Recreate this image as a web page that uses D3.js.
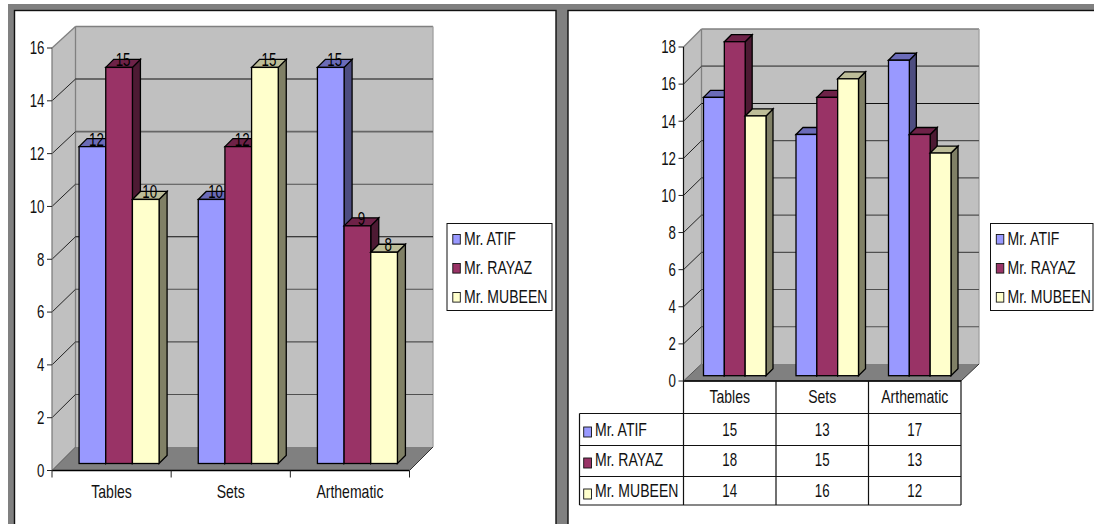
<!DOCTYPE html>
<html>
<head>
<meta charset="utf-8">
<style>
html,body{margin:0;padding:0;background:#fff;}
svg{display:block;}
text{font-family:"Liberation Sans",Arial,sans-serif;fill:#111;}
</style>
<script src="https://cdn.jsdelivr.net/npm/d3@7/dist/d3.min.js"></script>
</head>
<body>
<svg id="view" width="1094" height="524"></svg>
<script>
// Marks scores per teacher and topic, two 3D column charts side by side
const categories = ["Tables", "Sets", "Arthematic"];
const teachers = ["Mr. ATIF", "Mr. RAYAZ", "Mr. MUBEEN"];

const firstAtif = [12, 10, 15];
const firstRayaz = [15, 12, 9];
const firstMubeen = [10, 15, 8];
const firstTicks = [0, 2, 4, 6, 8, 10, 12, 14, 16];

const secondAtif = [15, 13, 17];
const secondRayaz = [18, 15, 13];
const secondMubeen = [14, 16, 12];
const secondTicks = [0, 2, 4, 6, 8, 10, 12, 14, 16, 18];

const faceColors = ["#9999ff", "#993366", "#ffffcc"];
const topColors = ["#6b6bb8", "#6e2248", "#bdbd98"];
const sideColors = ["#4d4d80", "#4d1a33", "#808066"];

const svg = d3.select("#view");

// Tall, narrowed Arial-like text: numbers squeeze a little more than words
function label(x, y, str, anchor, squeeze) {
  return svg.append("text")
    .attr("transform", `translate(${x},${y}) scale(${squeeze || 0.78},1)`)
    .attr("font-size", 18)
    .attr("text-anchor", anchor || "middle")
    .text(str);
}
function poly(points, fill, stroke, width) {
  return svg.append("polygon")
    .attr("points", points.map(p => p.join(",")).join(" "))
    .attr("fill", fill)
    .attr("stroke", stroke || "none")
    .attr("stroke-width", width || 1);
}
function line(x1, y1, x2, y2, stroke, width) {
  return svg.append("line")
    .attr("x1", x1).attr("y1", y1).attr("x2", x2).attr("y2", y2)
    .attr("stroke", stroke).attr("stroke-width", width || 1);
}

// Window chrome around the two panels
function frame() {
  svg.append("rect").attr("x", 8).attr("y", 4).attr("width", 1086).attr("height", 520).attr("fill", "#808080");
  [[14.5, 556], [568, 1095]].forEach(([a, b]) => {
    svg.append("rect").attr("x", a).attr("y", 10.5).attr("width", b - a).attr("height", 520)
      .attr("fill", "#fff").attr("stroke", "#111").attr("stroke-width", 1.4);
  });
}

function legend(x0, x1) {
  svg.append("rect").attr("x", x0).attr("y", 223.5).attr("width", x1 - x0).attr("height", 87)
    .attr("fill", "#fff").attr("stroke", "#111").attr("stroke-width", 1);
  teachers.forEach((t, i) => {
    const cy = 239.3 + i * 29;
    svg.append("rect").attr("x", x0 + 5.8).attr("y", cy - 4.8).attr("width", 7.5).attr("height", 9.6)
      .attr("fill", faceColors[i]).attr("stroke", "#111").attr("stroke-width", 0.9);
    label(x0 + 17, cy + 5.6, t, "start");
  });
}

// One 3D column chart: walls, floor, gridlines, extruded bars
function chart(o) {
  const y = d3.scaleLinear().domain(o.domain).range([o.y0, o.yTop]);
  const yBack = d3.scaleLinear().domain(o.domain).range([o.backY0, o.backTop]);
  const xCat = d3.scaleBand().domain(categories).range([o.x0, o.x1]);
  const xBar = d3.scaleBand().domain(d3.range(3)).range([0, o.groupW]);
  const dx = o.depthX;

  poly([[o.x0, o.y0], [o.x0 + dx, o.backY0], [o.x0 + dx, o.backTop], [o.x0, o.yTop]], "#c0c0c0");
  poly([[o.x0 + dx, o.backY0], [o.x1 + dx, o.backY0], [o.x1 + dx, o.backTop], [o.x0 + dx, o.backTop]], "#c0c0c0");
  poly([[o.x0, o.y0], [o.x0 + dx, o.backY0], [o.x1 + dx, o.backY0], [o.x1, o.y0]], "#808080");

  // Wall outlines
  line(o.x0 + dx, o.backTop, o.x1 + dx, o.backTop, "#808080", 1.3);
  line(o.x0 + dx, o.backTop, o.x0 + dx, o.backY0, "#808080", 1.3);
  line(o.x1 + dx, o.backTop, o.x1 + dx, o.backY0, "#a0a0a0", 1.3);
  line(o.x0, o.yTop, o.x0 + dx, o.backTop, "#808080", 1.3);

  o.ticks.slice(1, -1).forEach(t => {
    const strong = o.darkGrid.includes(t), wide = o.wideGrid.includes(t);
    line(o.x0 + dx, yBack(t), o.x1 + dx, yBack(t), strong ? "#111" : wide ? "#666" : "#505050", wide ? 1.7 : 1.1);
    line(o.x0, y(t), o.x0 + dx, yBack(t), "#222", 1);
  });

  // Axes
  line(o.x0, o.yTop, o.x0, o.y0, o.axisColor, 1.2);
  line(o.x0, o.y0, o.x1, o.y0, "#000", 1.4);
  line(o.x1, o.y0, o.x1 + dx, o.backY0, "#333", 1);
  line(o.x0, o.y0, o.x0 + dx, o.backY0, "#555", 1);
  o.ticks.forEach(t => {
    line(o.x0 - 5, y(t), o.x0, y(t), "#222", 1);
    label(o.x0 - 7.5, y(t) + 6.3, t, "end", 0.74);
  });
  if (o.catTicks) {
    d3.range(4).forEach(i => {
      const x = o.x0 + i * xCat.bandwidth();
      line(x, o.y0, x, o.y0 + 7, "#222", 1);
    });
    categories.forEach(c => label(xCat(c) + xCat.bandwidth() / 2, o.y0 + 27.6, c));
  }

  // Bars are painted left to right so each one hides part of its neighbour's side
  categories.forEach((c, ci) => {
    const left = xCat(c) + (xCat.bandwidth() - o.groupW) / 2 + o.shift[0];
    o.series.forEach((vals, si) => {
      const xa = left + xBar(si), xb = xa + xBar.bandwidth();
      const top = y(vals[ci]) - o.shift[1], bot = y(0) - o.shift[1];
      const [bx, by] = o.barDepth;
      poly([[xb, top], [xb + bx, top - by], [xb + bx, bot - by], [xb, bot]], sideColors[si], "#000", 1.3);
      poly([[xa, top], [xa + bx, top - by], [xb + bx, top - by], [xb, top]], topColors[si], "#000", 1.3);
      svg.append("rect").attr("x", xa).attr("y", top).attr("width", xb - xa).attr("height", bot - top)
        .attr("fill", faceColors[si]).attr("stroke", "#000").attr("stroke-width", 1.3);
    });
  });

  if (o.showValues) {
    categories.forEach((c, ci) => {
      const left = xCat(c) + (xCat.bandwidth() - o.groupW) / 2 + o.shift[0];
      o.series.forEach((vals, si) => {
        const cx = left + xBar(si) + xBar.bandwidth() / 2 + 4;
        label(cx, y(vals[ci]) - o.shift[1] - 1, vals[ci], "middle", 0.74).style("fill", "#000");
      });
    });
  }
}

// Data table under the second chart
function dataTable(series) {
  const xs = [579.5, 683.5, 776, 868.5, 961];
  const ys = [381, 413.5, 445.5, 476.5, 505];
  const textMid = [430, 459.5, 490.5];
  const swatchMid = [432, 463, 494];
  ys.forEach((yy, i) => line(i === 0 ? xs[1] : xs[0], yy, xs[4], yy, "#111", 1.2));
  xs.forEach((xx, i) => line(xx, i === 0 ? ys[1] : ys[0], xx, ys[4], "#111", 1.2));
  categories.forEach((c, i) => label((xs[i + 1] + xs[i + 2]) / 2, 403, c));
  series.forEach((vals, r) => {
    svg.append("rect").attr("x", 583.7).attr("y", swatchMid[r] - 5).attr("width", 7.8).attr("height", 10)
      .attr("fill", faceColors[r]).attr("stroke", "#111").attr("stroke-width", 0.9);
    label(595, textMid[r] + 6.3, teachers[r], "start");
    vals.forEach((v, i) => label((xs[i + 1] + xs[i + 2]) / 2, textMid[r] + 6.3, v, "middle", 0.74));
  });
}

frame();

chart({
  domain: [0, 16], ticks: firstTicks,
  series: [firstAtif, firstRayaz, firstMubeen],
  x0: 52, x1: 409.5, y0: 470.5, yTop: 48,
  depthX: 23.5, backY0: 447, backTop: 26.5,
  groupW: 80, shift: [7.5, 7], barDepth: [8, 8],
  darkGrid: [14, 8], wideGrid: [12],
  catTicks: true, showValues: true, axisColor: "#777"
});
legend(447, 552);

chart({
  domain: [0, 18], ticks: secondTicks,
  series: [secondAtif, secondRayaz, secondMubeen],
  x0: 683.5, x1: 961, y0: 381, yTop: 47,
  depthX: 18, backY0: 364, backTop: 29,
  groupW: 62.5, shift: [5, 5.3], barDepth: [7, 7],
  darkGrid: [14], wideGrid: [16],
  catTicks: false, showValues: false, axisColor: "#111"
});
dataTable([secondAtif, secondRayaz, secondMubeen]);
legend(990.5, 1093);
</script>
</body>
</html>
